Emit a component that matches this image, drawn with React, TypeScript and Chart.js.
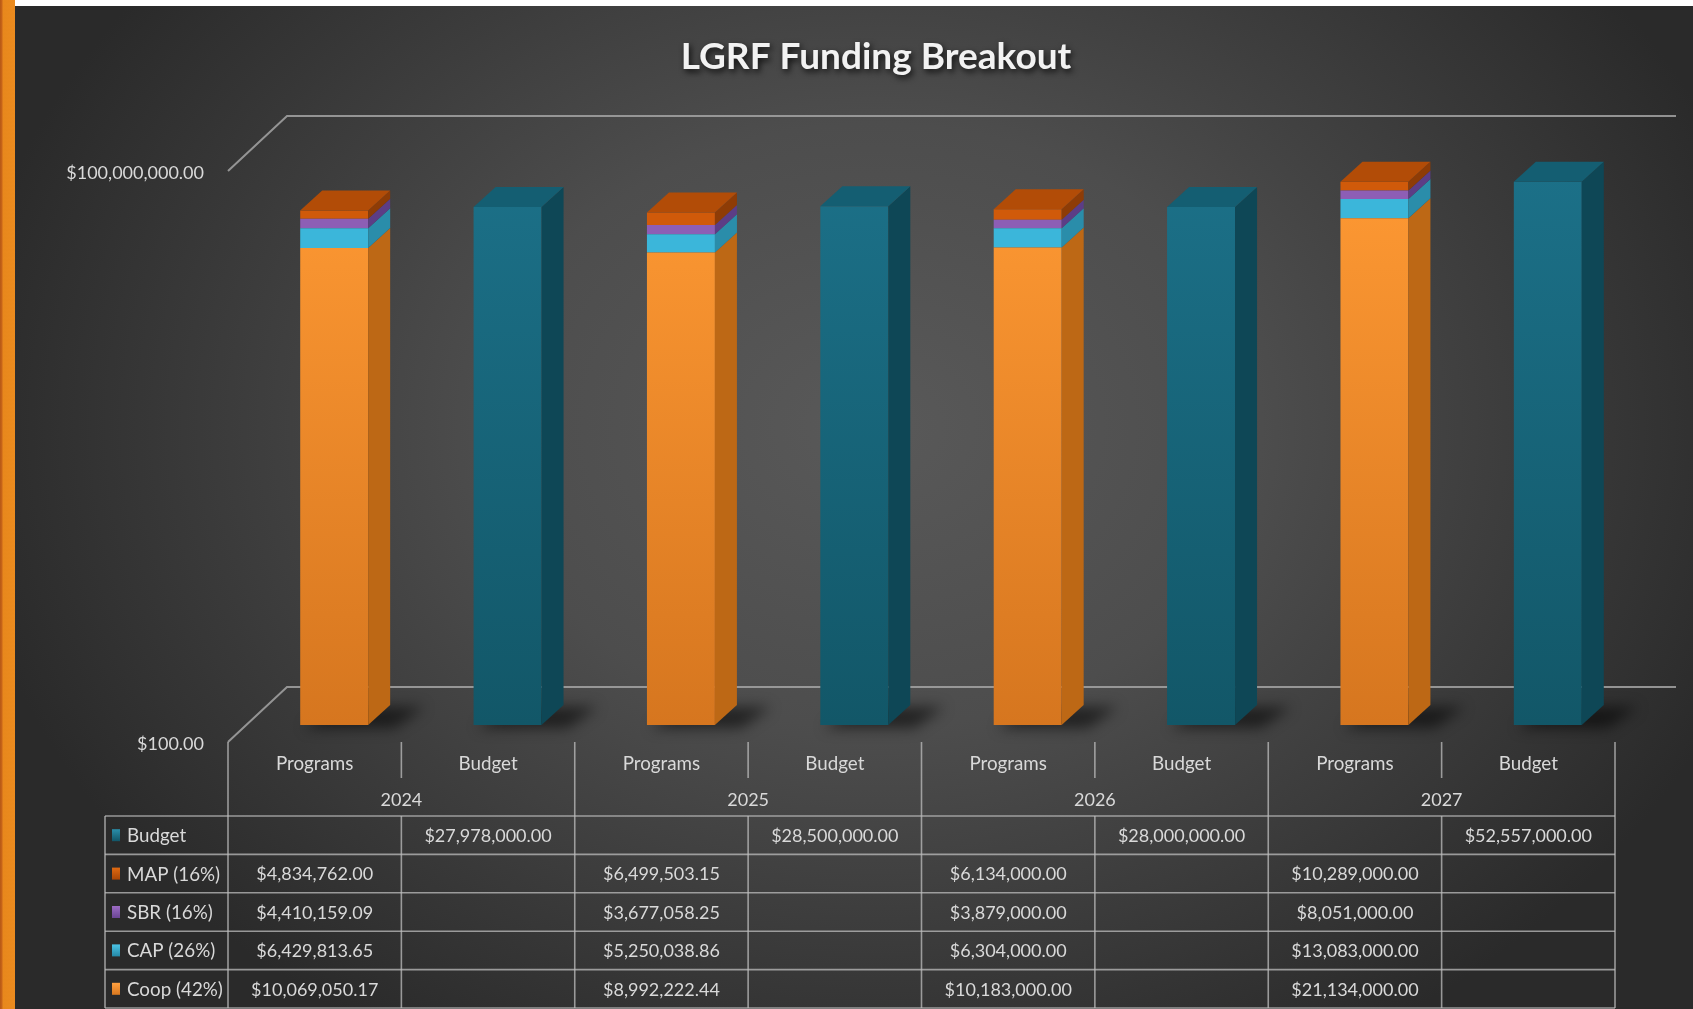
import React, { useEffect, useRef } from 'react';
import { Chart, registerables } from 'chart.js';

Chart.register(...registerables);

// ---------------- data ----------------
const categories = ['Programs', 'Budget', 'Programs', 'Budget', 'Programs', 'Budget', 'Programs', 'Budget'];
const years = ['2024', '2025', '2026', '2027'];
const budget = [27978000.0, 28500000.0, 28000000.0, 52557000.0];
const mapValues = [4834762.0, 6499503.15, 6134000.0, 10289000.0];
const sbrValues = [4410159.09, 3677058.25, 3879000.0, 8051000.0];
const capValues = [6429813.65, 5250038.86, 6304000.0, 13083000.0];
const coopValues = [10069050.17, 8992222.44, 10183000.0, 21134000.0];
const seriesNames = ['Budget', 'MAP (16%)', 'SBR (16%)', 'CAP (26%)', 'Coop (42%)'];
const yTicks = [100, 100000000];
const chartTitle = 'LGRF Funding Breakout';

// ---------------- style ----------------
const FONT = 'Lato, "Open Sans", sans-serif';
const FS = 18;
const FL = 18.8;
const TEXT = '#D9D9D9';
const LINE = 'rgba(190,190,190,0.75)';
const DX = 22; // bar depth x
const DY = 20; // bar depth y
const SHIFT = 19.5; // bars sit mid-depth
const WX = 59; // wall depth x
const WY = 55; // wall depth y

const money = (v: number) =>
  '$' + v.toLocaleString('en-US', { minimumFractionDigits: 2, maximumFractionDigits: 2 });

const onPrograms = (arr: number[]) => categories.map((c, i) => (c === 'Programs' ? arr[Math.floor(i / 2)] : null));
const onBudget = (arr: number[]) => categories.map((c, i) => (c === 'Budget' ? arr[Math.floor(i / 2)] : null));

const grad = (c0: string, c1: string) => (ctx: any) => {
  const chart = ctx.chart;
  const a = chart.chartArea;
  if (!a) return c0;
  const g = chart.ctx.createLinearGradient(0, a.top, 0, a.bottom);
  g.addColorStop(0, c0);
  g.addColorStop(1, c1);
  return g;
};

const threeD = {
  id: 'threeD',
  beforeDatasetsDraw(chart: any) {
    const ctx = chart.ctx;
    const ys = chart.scales.y;
    const a = chart.chartArea;
    const yTop = ys.getPixelForValue(yTicks[1]);
    const yBot = ys.getPixelForValue(yTicks[0]);
    ctx.save();
    ctx.strokeStyle = 'rgba(165,165,165,0.85)';
    ctx.lineWidth = 2;
    ctx.beginPath();
    ctx.moveTo(a.left, yTop + 15);
    ctx.lineTo(a.left + WX, yTop + 15 - WY);
    ctx.lineTo(a.right + 61, yTop + 15 - WY);
    ctx.stroke();
    ctx.beginPath();
    ctx.moveTo(a.left, yBot + 32);
    ctx.lineTo(a.left + WX, yBot + 32 - WY);
    ctx.lineTo(a.right + 61, yBot + 32 - WY);
    ctx.stroke();
    ctx.restore();

    // soft shadows on the floor
    ctx.save();
    ctx.translate(SHIFT, 0);
    ctx.filter = 'blur(7px)';
    ctx.fillStyle = 'rgba(0,0,0,0.55)';
    chart.data.datasets.forEach((ds: any, di: number) => {
      if (!ds.floor) return;
      const meta = chart.getDatasetMeta(di);
      meta.data.forEach((el: any, i: number) => {
        if (ds.data[i] == null) return;
        const p = el.getProps(['x', 'base', 'width'], true);
        const l = p.x - p.width / 2;
        const r = p.x + p.width / 2;
        const b = p.base;
        ctx.beginPath();
        ctx.moveTo(l + 4, b + 3);
        ctx.lineTo(r + 26, b + 3);
        ctx.lineTo(r + DX + 34, b - DY + 2);
        ctx.lineTo(l + DX + 10, b - DY + 2);
        ctx.closePath();
        ctx.fill();
      });
    });
    ctx.restore();

    ctx.save();
    ctx.translate(SHIFT, 0);
  },
  afterDatasetsDraw(chart: any) {
    const ctx = chart.ctx;
    chart.data.datasets.forEach((ds: any, di: number) => {
      const meta = chart.getDatasetMeta(di);
      meta.data.forEach((el: any, i: number) => {
        if (ds.data[i] == null) return;
        const p = el.getProps(['x', 'y', 'base', 'width'], true);
        const l = p.x - p.width / 2;
        const r = p.x + p.width / 2;
        const t = Math.min(p.y, p.base);
        const b = Math.max(p.y, p.base);
        ctx.fillStyle = ds.sideColor;
        ctx.beginPath();
        ctx.moveTo(r, b);
        ctx.lineTo(r + DX, b - DY);
        ctx.lineTo(r + DX, t - DY);
        ctx.lineTo(r, t);
        ctx.closePath();
        ctx.fill();
        if (ds.capTop) {
          ctx.fillStyle = ds.topColor;
          ctx.beginPath();
          ctx.moveTo(l, t);
          ctx.lineTo(l + DX, t - DY);
          ctx.lineTo(r + DX, t - DY);
          ctx.lineTo(r, t);
          ctx.closePath();
          ctx.fill();
        }
      });
    });
    ctx.restore();
  },
};

const tablePlugin = {
  id: 'dataTable',
  afterDraw(chart: any) {
    const ctx = chart.ctx;
    const xs = chart.scales.x;
    const x2 = chart.scales.x2;
    const ys = chart.scales.y;
    const yFront = ys.getPixelForValue(yTicks[0]) + 32;
    const n = categories.length;
    const colW = (xs.right - xs.left) / n;
    const rowTop = x2.bottom + 3;
    const rowH = 38.4;
    const rows = seriesNames.length;
    const tableBottom = rowTop + rows * rowH;
    const keyLeft = xs.left - 123;

    ctx.save();
    ctx.strokeStyle = LINE;
    ctx.lineWidth = 1.6;
    for (let k = 0; k <= rows; k++) {
      const y = Math.min(rowTop + k * rowH, chart.height - 1);
      ctx.beginPath();
      ctx.moveTo(keyLeft, y);
      ctx.lineTo(xs.right, y);
      ctx.stroke();
    }
    ctx.beginPath();
    ctx.moveTo(keyLeft, rowTop);
    ctx.lineTo(keyLeft, tableBottom);
    ctx.stroke();
    for (let i = 0; i <= n; i++) {
      const x = xs.left + i * colW;
      ctx.beginPath();
      if (i % 2 === 0) {
        ctx.moveTo(x, yFront);
        ctx.lineTo(x, tableBottom);
      } else {
        ctx.moveTo(x, yFront);
        ctx.lineTo(x, yFront + 36);
        ctx.moveTo(x, rowTop);
        ctx.lineTo(x, tableBottom);
      }
      ctx.stroke();
    }

    const rowData = [onBudget(budget), onPrograms(mapValues), onPrograms(sbrValues), onPrograms(capValues), onPrograms(coopValues)];
    const keyColors = [
      ['#2A8FAB', '#125567'],
      ['#E06A12', '#A84606'],
      ['#9C6CC4', '#6A4594'],
      ['#4CC4E6', '#2488A6'],
      ['#FFA040', '#D9781F'],
    ];
    ctx.textBaseline = 'middle';
    for (let k = 0; k < rows; k++) {
      const cy = rowTop + k * rowH + rowH / 2;
      const g = ctx.createLinearGradient(0, cy - 6, 0, cy + 6);
      g.addColorStop(0, keyColors[k][0]);
      g.addColorStop(1, keyColors[k][1]);
      ctx.fillStyle = g;
      ctx.fillRect(keyLeft + 7, cy - 6, 8, 12);
      ctx.fillStyle = TEXT;
      ctx.textAlign = 'left';
      ctx.font = FL + 'px ' + FONT;
      ctx.fillText(seriesNames[k], keyLeft + 22, cy + 1);
      ctx.textAlign = 'center';
      ctx.font = FS + 'px ' + FONT;
      rowData[k].forEach((v, i) => {
        if (v == null) return;
        ctx.fillText(money(v), xs.left + (i + 0.5) * colW, cy + 1);
      });
    }
    ctx.restore();
  },
};

export default function App() {
  const ref = useRef<HTMLCanvasElement>(null);

  useEffect(() => {
    const datasets: any[] = [
      {
        label: seriesNames[4],
        data: onPrograms(coopValues),
        backgroundColor: grad('#FF9A34', '#D6761F'),
        sideColor: '#BD6815',
        floor: true,
      },
      {
        label: seriesNames[3],
        data: onPrograms(capValues),
        backgroundColor: '#3BB6DA',
        sideColor: '#2A8DAA',
      },
      {
        label: seriesNames[2],
        data: onPrograms(sbrValues),
        backgroundColor: '#8D5EB5',
        sideColor: '#5C3D86',
      },
      {
        label: seriesNames[1],
        data: onPrograms(mapValues),
        backgroundColor: '#D05A0A',
        sideColor: '#8E3C06',
        topColor: '#B24C07',
        capTop: true,
      },
      {
        label: seriesNames[0],
        data: onBudget(budget),
        backgroundColor: grad('#1C7189', '#125768'),
        sideColor: '#0E4756',
        topColor: '#145E72',
        capTop: true,
        floor: true,
      },
    ];
    datasets.forEach((d) => {
      d.borderWidth = 0;
      d.categoryPercentage = 0.392;
      d.barPercentage = 1;
    });

    const chart = new Chart(ref.current as HTMLCanvasElement, {
      type: 'bar',
      data: { labels: categories, datasets },
      plugins: [threeD, tablePlugin],
      options: {
        responsive: false,
        animation: false,
        devicePixelRatio: 1,
        layout: { padding: { left: 0, right: -59, top: 0, bottom: 196 } },
        plugins: {
          legend: { display: false },
          tooltip: { enabled: false },
          title: {
            display: true,
            text: chartTitle,
            color: '#F2F2F2',
            font: { family: FONT, size: 37, weight: 'bold', lineHeight: 1.2 },
            padding: { top: 34.8, bottom: 76.8 },
          },
        },
        scales: {
          x: {
            type: 'category',
            stacked: true,
            offset: true,
            grid: { display: false, drawTicks: false },
            border: { display: false },
            ticks: { padding: 28, color: TEXT, autoSkip: false, maxRotation: 0, font: { family: FONT, size: FL, lineHeight: 1.2 } },
            afterFit: (s: any) => {
              s.height = 52;
            },
          },
          x2: {
            type: 'category',
            labels: years,
            position: 'bottom',
            offset: true,
            weight: 1,
            grid: { display: false, drawTicks: false },
            border: { display: false },
            ticks: { padding: 12, color: TEXT, autoSkip: false, maxRotation: 0, font: { family: FONT, size: FS, lineHeight: 1.2 } },
            afterFit: (s: any) => {
              s.height = 36;
            },
          },
          y: {
            type: 'logarithmic',
            stacked: true,
            min: 68.8,
            max: 100000000,
            grid: { display: false, drawTicks: false },
            border: { display: false },
            afterBuildTicks: (s: any) => {
              s.ticks = yTicks.map((v) => ({ value: v }));
            },
            afterFit: (s: any) => {
              s.width = 228;
            },
            ticks: {
              padding: 24,
              labelOffset: 17,
              color: TEXT,
              font: { family: FONT, size: FS, lineHeight: 1.9 },
              callback: (v: any) => (Number(v) === yTicks[0] ? ['', money(Number(v))] : money(Number(v))),
            },
          },
          yRight: {
            type: 'linear',
            position: 'right',
            display: true,
            grid: { display: false, drawTicks: false },
            border: { display: false },
            ticks: { display: false },
            afterFit: (s: any) => {
              s.width = 137;
            },
          },
        },
      } as any,
    });

    // soft drop shadow behind the title text, like the original
    const tb = (chart as any).titleBlock;
    if (tb) {
      const orig = tb.draw.bind(tb);
      tb.draw = (...args: any[]) => {
        const c = chart.ctx;
        c.save();
        c.shadowColor = 'rgba(0,0,0,0.8)';
        c.shadowBlur = 6;
        c.shadowOffsetX = 2;
        c.shadowOffsetY = 3;
        orig(...args);
        c.restore();
      };
      chart.draw();
    }
    return () => chart.destroy();
  }, []);

  return (
    <div style={{ position: 'fixed', left: 0, top: 0, width: 1693, height: 1009, background: '#ffffff', overflow: 'hidden' }}>
      <div
        style={{
          position: 'absolute',
          left: 0,
          top: 0,
          width: 15,
          height: 1009,
          background: 'linear-gradient(to right, #B65815 0px, #C9661A 2px, #E8881C 3px, #EB8B1F 15px)',
        }}
      />
      <div
        style={{
          position: 'absolute',
          left: 15,
          top: 6,
          right: 0,
          bottom: 0,
          background: 'radial-gradient(ellipse 920px 720px at 860px 420px, #595959 0%, #4d4d4d 42%, #2a2a2a 100%)',
        }}
      />
      <canvas ref={ref} width={1693} height={1009} style={{ position: 'absolute', left: 0, top: 0 }} />
    </div>
  );
}
